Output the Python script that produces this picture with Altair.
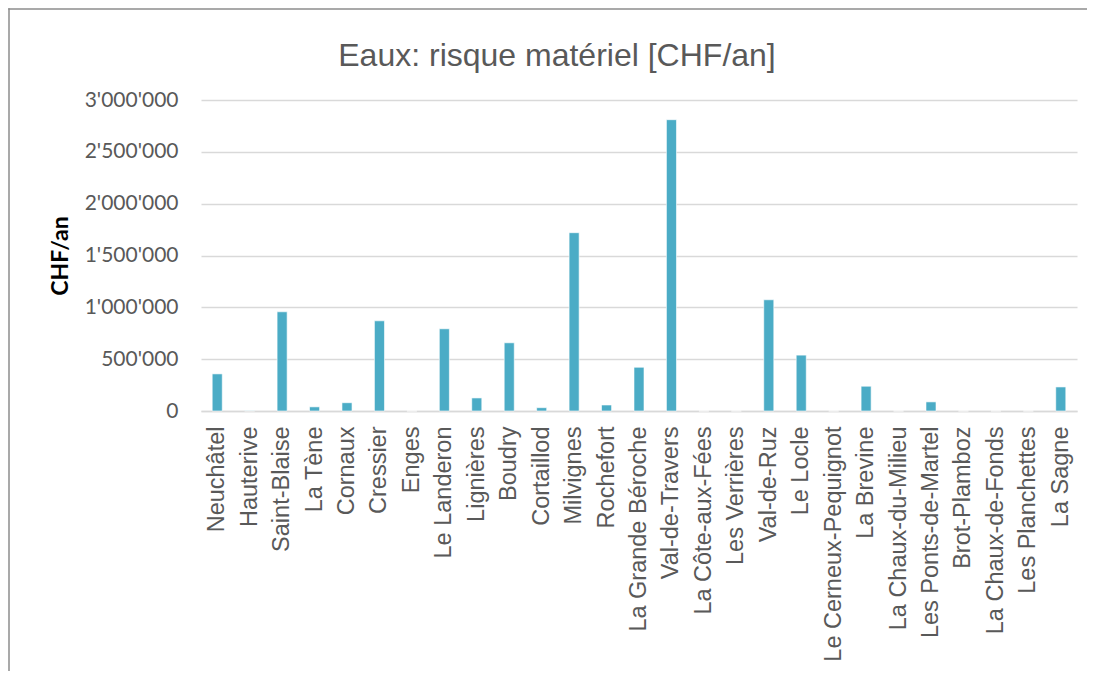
import altair as alt
import pandas as pd

communes = ["Neuchâtel", "Hauterive", "Saint-Blaise", "La Tène", "Cornaux", "Cressier",
            "Enges", "Le Landeron", "Lignières", "Boudry", "Cortaillod", "Milvignes",
            "Rochefort", "La Grande Béroche", "Val-de-Travers", "La Côte-aux-Fées",
            "Les Verrières", "Val-de-Ruz", "Le Locle", "Le Cerneux-Pequignot", "La Brevine",
            "La Chaux-du-Milieu", "Les Ponts-de-Martel", "Brot-Plamboz", "La Chaux-de-Fonds",
            "Les Planchettes", "La Sagne"]
risque = [358000, 2000, 957000, 40000, 80000, 870000,
          0, 793000, 126000, 658000, 32000, 1720000,
          58000, 422000, 2810000, 0,
          0, 1073000, 539000, 0, 239000,
          0, 88000, 0, 0,
          0, 232000]

df = pd.DataFrame({"commune": communes, "risque": risque})

W, H = 876, 311

bars = alt.Chart(df).mark_bar(
    color="#4BACC6", stroke="#ffffff", strokeOpacity=0.6, strokeWidth=1
).encode(
    x=alt.X("commune:N", sort=communes,
            scale=alt.Scale(paddingInner=0.69, paddingOuter=0.345),
            axis=alt.Axis(title=None, labelAngle=270, labelAlign="right", labelBaseline="middle",
                          labelFont="Liberation Sans", labelFontSize=23.5, labelColor="#595959",
                          labelPadding=15, ticks=False, domainColor="#d9d9d9", domainWidth=1.3,
                          labelOverlap=False, labelLimit=400)),
    y=alt.Y("risque:Q",
            scale=alt.Scale(domain=[0, 3000000], nice=False),
            axis=alt.Axis(title="CHF/an", titleFont="Lato", titleFontSize=23, titleFontWeight="bold",
                          titleColor="#000000", titlePadding=12,
                          values=[0, 500000, 1000000, 1500000, 2000000, 2500000, 3000000],
                          labelExpr="replace(format(datum.value, ','), /,/g, \"'\")",
                          labelFont="Lato", labelFontSize=21, labelColor="#595959",
                          labelPadding=23, ticks=False, domain=False,
                          gridColor="#d9d9d9", gridWidth=1.3)),
)

dummy = pd.DataFrame({"f": [0]})
frame_left = alt.Chart(dummy).mark_rule(color="#8c8c8c", strokeWidth=1.5, clip=False).encode(
    x=alt.value(-192), y=alt.value(-91.75), y2=alt.value(600)
)
frame_top = alt.Chart(dummy).mark_rule(color="#8c8c8c", strokeWidth=1.5, clip=False).encode(
    x=alt.value(-192.75), x2=alt.value(886), y=alt.value(-91)
)

chart = alt.layer(bars, frame_left, frame_top).properties(
    width=W, height=H,
    title=alt.TitleParams("Eaux: risque matériel [CHF/an]", font="Liberation Sans", fontSize=32,
                          fontWeight="normal", color="#595959", anchor="middle", dx=-82,
                          offset=-97, baseline="bottom"),
    autosize=alt.AutoSizeParams(type="none"),
    padding={"left": 193, "top": 92, "right": 10, "bottom": 260},
).configure_view(stroke=None)

chart.save("out.html", embed_options={"renderer": "svg", "actions": False})
